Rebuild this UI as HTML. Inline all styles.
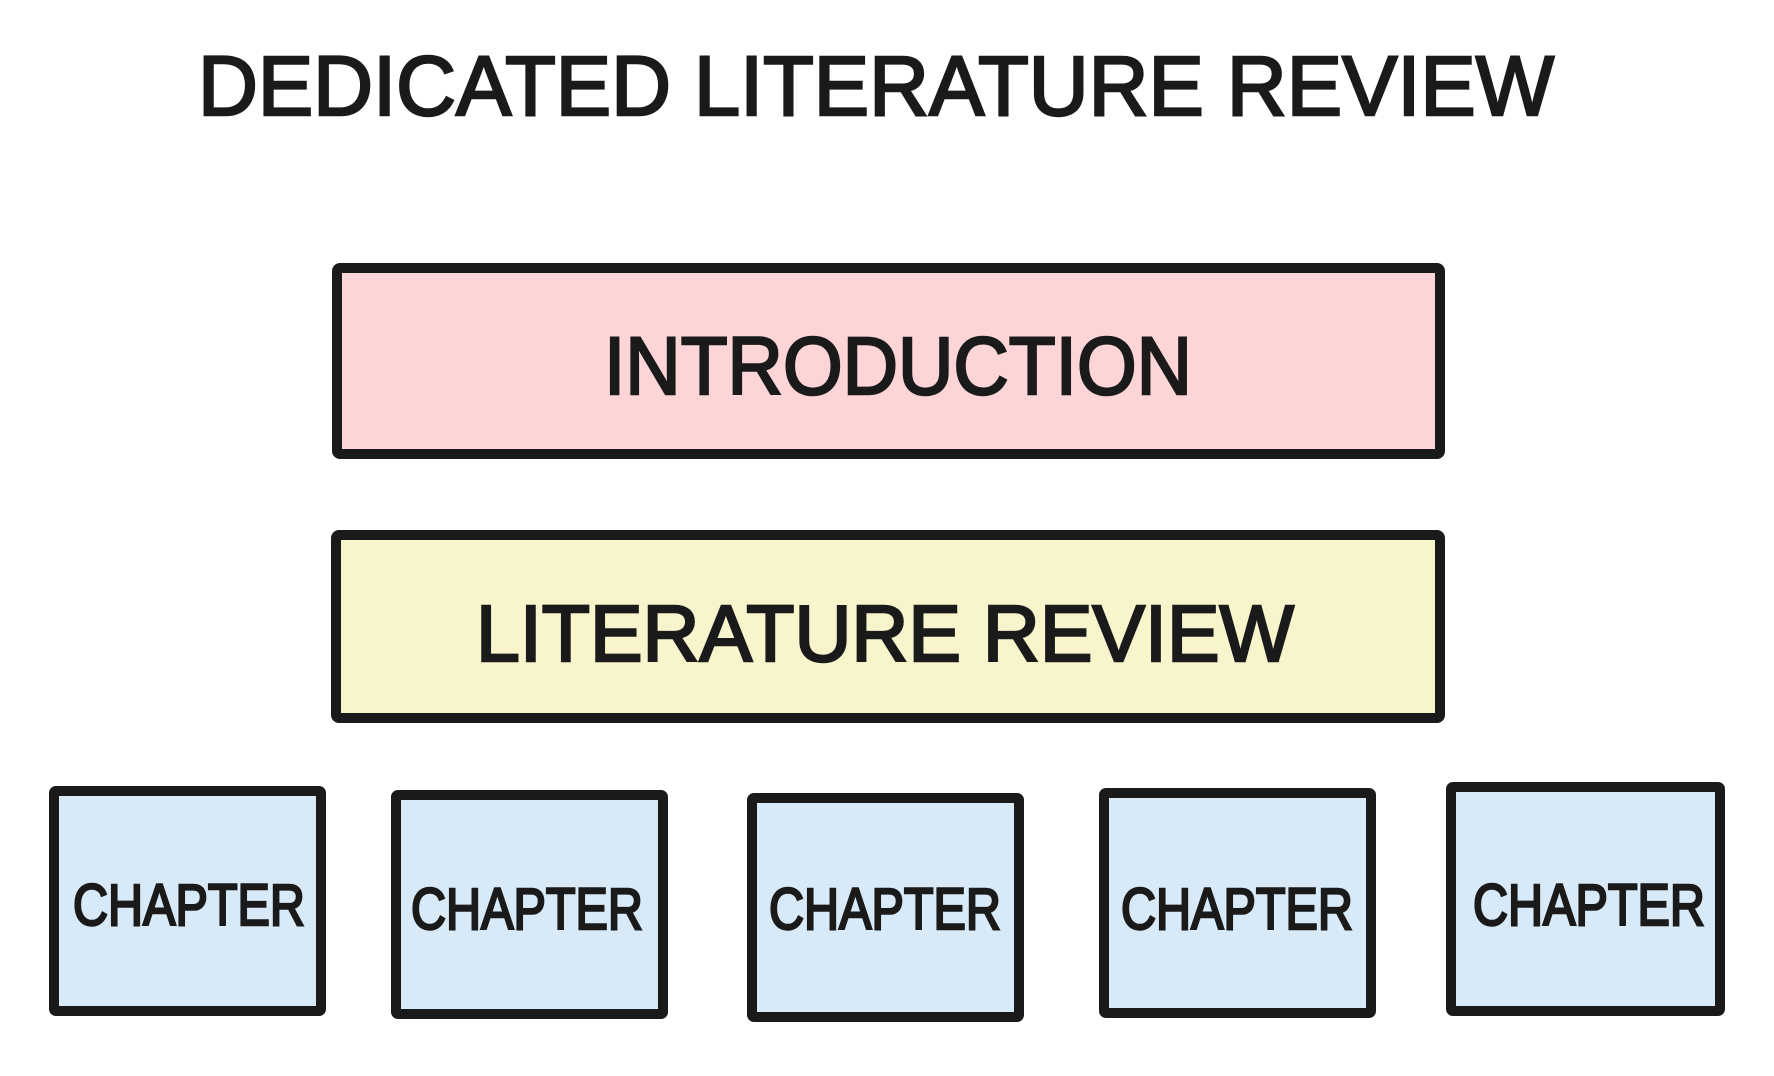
<!DOCTYPE html>
<html><head><meta charset="utf-8"><style>
html,body{margin:0;padding:0;background:#fff;}
svg{display:block}
text{font-family:"Liberation Sans",sans-serif;fill:#1a1a1a;stroke:#1a1a1a;stroke-width:2.5;}
</style></head><body>
<svg width="1774" height="1076" viewBox="0 0 1774 1076" xmlns="http://www.w3.org/2000/svg">
<text x="198" y="115" font-size="84" textLength="1356" lengthAdjust="spacingAndGlyphs">DEDICATED LITERATURE REVIEW</text>

<rect x="337" y="268" width="1103" height="186" rx="3" fill="#fdd5d6" stroke="#1a1a1a" stroke-width="10"/>
<text x="604" y="394" font-size="82" textLength="588" lengthAdjust="spacingAndGlyphs">INTRODUCTION</text>

<rect x="336" y="535" width="1104" height="183" rx="3" fill="#f8f5cd" stroke="#1a1a1a" stroke-width="10"/>
<text x="476" y="661" font-size="80" textLength="818" lengthAdjust="spacingAndGlyphs">LITERATURE REVIEW</text>

<g fill="#d8e9f7" stroke="#1a1a1a" stroke-width="10">
<rect x="54" y="791" width="267" height="220" rx="2"/>
<rect x="396" y="795" width="267" height="219" rx="2"/>
<rect x="752" y="798" width="267" height="219" rx="2"/>
<rect x="1104" y="793" width="267" height="220" rx="2"/>
<rect x="1451" y="787" width="269" height="224" rx="2"/>
</g>
<g font-size="58">
<text x="73" y="925" textLength="232" lengthAdjust="spacingAndGlyphs">CHAPTER</text>
<text x="411" y="929" textLength="232" lengthAdjust="spacingAndGlyphs">CHAPTER</text>
<text x="769" y="929" textLength="232" lengthAdjust="spacingAndGlyphs">CHAPTER</text>
<text x="1121" y="929" textLength="232" lengthAdjust="spacingAndGlyphs">CHAPTER</text>
<text x="1473" y="925" textLength="232" lengthAdjust="spacingAndGlyphs">CHAPTER</text>
</g>
</svg>
</body></html>
